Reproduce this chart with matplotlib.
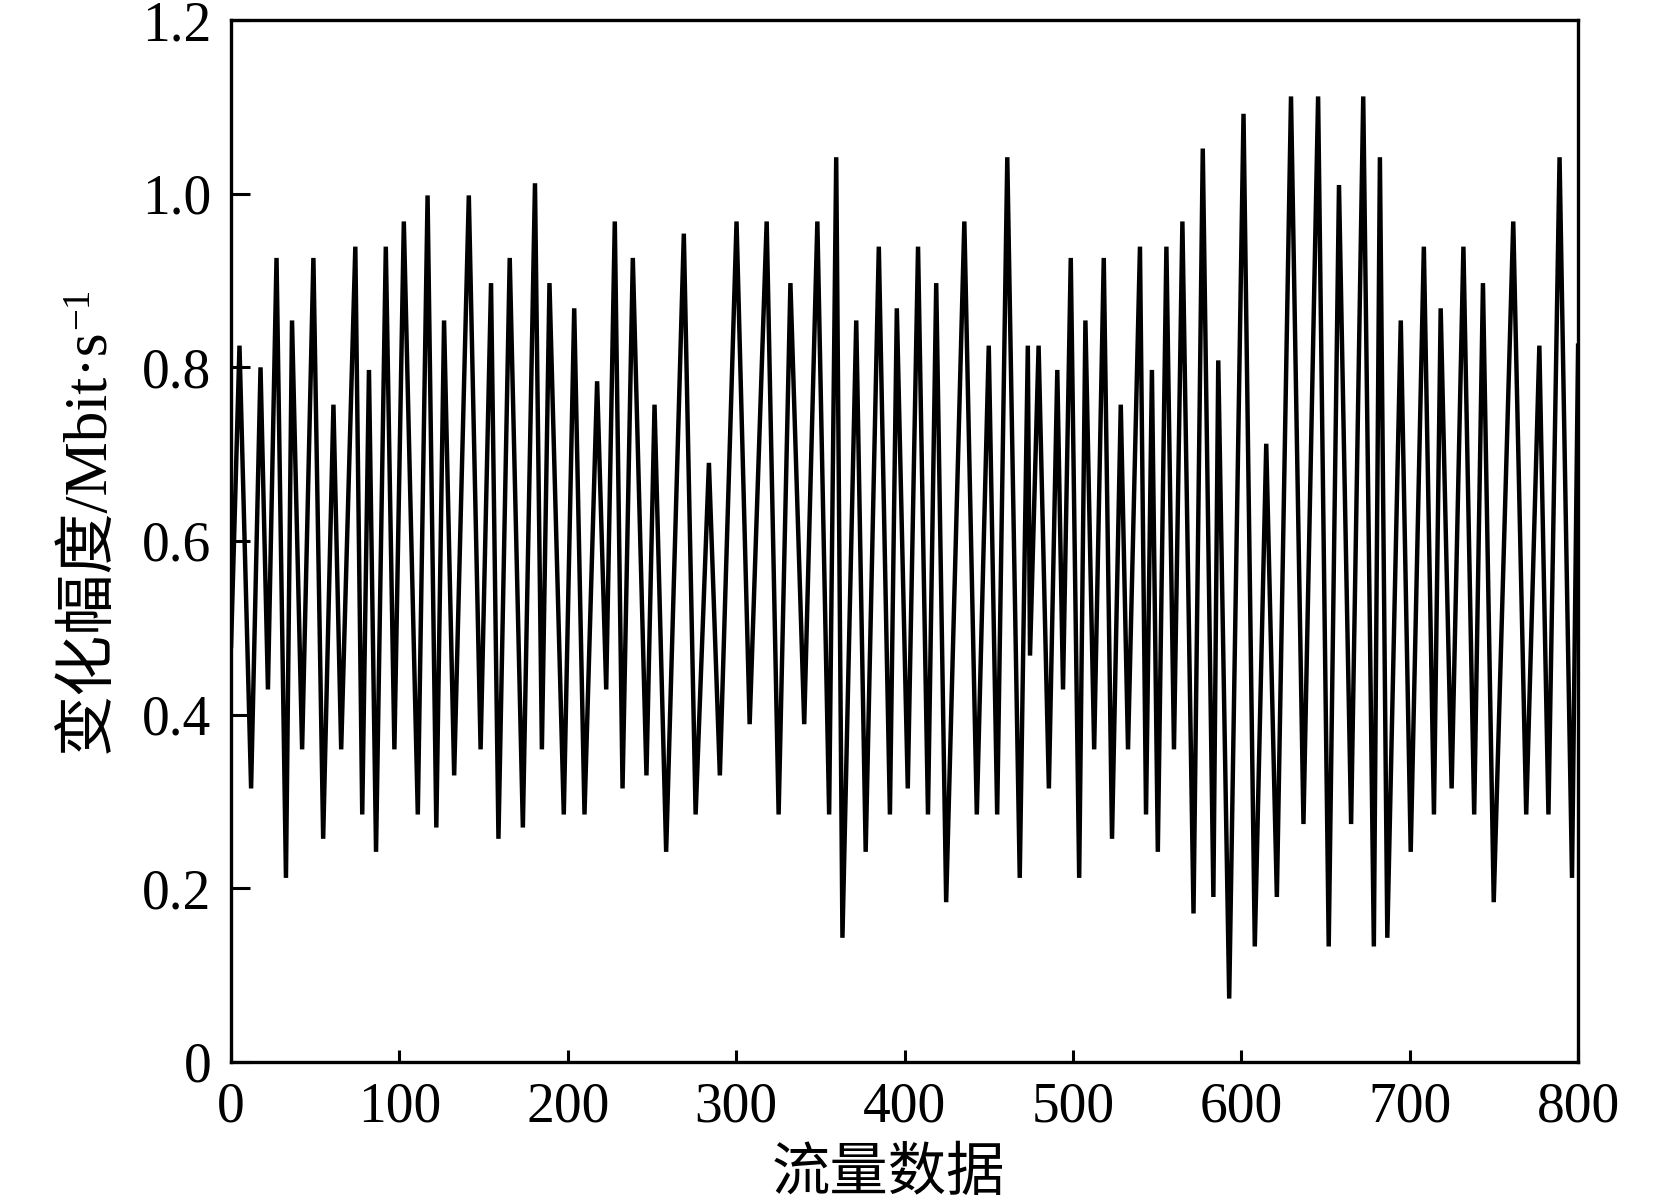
import numpy as np
import matplotlib.pyplot as plt

#%% Data
flow_idx = [0, 5.0, 11.9, 17.5, 21.9, 27.0, 32.6, 36.2, 42.2, 48.9,
            54.7, 60.8, 65.4, 73.8, 77.9, 81.9, 86.1, 91.9, 97.0, 102.6,
            110.9, 116.7, 121.9, 126.5, 132.5, 141.2, 148.2, 154.4, 158.8, 165.5,
            173.3, 180.5, 184.6, 189.1, 197.6, 203.8, 209.9, 217.4, 222.8, 227.9,
            232.5, 238.6, 246.7, 251.5, 258.4, 268.9, 275.9, 283.8, 290.3, 300.2,
            308.0, 318.1, 325.2, 332.2, 340.4, 348.2, 355.2, 359.4, 363.1, 371.3,
            376.9, 384.7, 391.3, 395.4, 401.9, 408.0, 413.9, 418.8, 424.7, 435.5,
            442.9, 450.0, 455.0, 461.0, 468.4, 473.2, 474.5, 479.6, 485.7, 490.7,
            494.1, 498.7, 503.7, 507.4, 512.6, 518.3, 523.2, 528.4, 532.7, 539.8,
            543.4, 546.9, 550.4, 555.5, 560.0, 565.0, 571.6, 577.1, 583.4, 586.3,
            592.8, 601.3, 608.0, 614.8, 621.1, 629.5, 636.9, 645.6, 651.9, 658.0,
            665.2, 672.4, 678.7, 682.3, 686.7, 694.7, 700.6, 708.4, 714.4, 718.4,
            724.9, 731.9, 738.3, 743.5, 749.9, 761.5, 769.2, 777.0, 782.4, 789.0,
            796.4, 800.0]
amplitude = [0.479, 0.825, 0.315, 0.800, 0.429, 0.926, 0.212, 0.854, 0.360, 0.926,
             0.257, 0.757, 0.360, 0.939, 0.285, 0.797, 0.242, 0.939, 0.360, 0.968,
             0.285, 0.998, 0.270, 0.854, 0.330, 0.998, 0.360, 0.897, 0.257, 0.926,
             0.270, 1.012, 0.360, 0.897, 0.285, 0.868, 0.285, 0.784, 0.429, 0.968,
             0.315, 0.926, 0.330, 0.757, 0.242, 0.954, 0.285, 0.690, 0.330, 0.968,
             0.389, 0.968, 0.285, 0.897, 0.389, 0.968, 0.285, 1.042, 0.143, 0.854,
             0.242, 0.939, 0.285, 0.868, 0.315, 0.939, 0.285, 0.897, 0.184, 0.968,
             0.285, 0.825, 0.285, 1.042, 0.212, 0.825, 0.468, 0.825, 0.315, 0.797,
             0.429, 0.926, 0.212, 0.854, 0.360, 0.926, 0.257, 0.757, 0.360, 0.939,
             0.285, 0.797, 0.242, 0.939, 0.360, 0.968, 0.171, 1.052, 0.190, 0.808,
             0.073, 1.092, 0.133, 0.712, 0.190, 1.112, 0.274, 1.112, 0.133, 1.010,
             0.274, 1.112, 0.133, 1.042, 0.143, 0.854, 0.242, 0.939, 0.285, 0.868,
             0.315, 0.939, 0.285, 0.897, 0.184, 0.968, 0.285, 0.825, 0.285, 1.042,
             0.212, 0.825]

x_ticks = [0, 100, 200, 300, 400, 500, 600, 700, 800]
y_ticks = [0, 0.2, 0.4, 0.6, 0.8, 1.0, 1.2]
y_tick_labels = ["0", "0.2", "0.4", "0.6", "0.8", "1.0", "1.2"]

#%% Style
plt.rcParams['font.family'] = ['Liberation Serif', 'Noto Sans CJK SC']

#%% Plot
fig = plt.figure(figsize=(16.54, 11.99), dpi=100)
ax = fig.add_axes([0.1397, 0.1143, 0.8144, 0.8690])

ax.plot(flow_idx, amplitude, color="black", linewidth=3.2, solid_joinstyle="miter")

ax.set_xlim(0, 800)
ax.set_ylim(0, 1.2)
ax.set_xticks(x_ticks)
ax.set_yticks(y_ticks)
ax.set_yticklabels(y_tick_labels)

ax.tick_params(axis="x", direction="in", length=8.5, width=2.2, labelsize=40, pad=14)
ax.tick_params(axis="y", direction="in", length=14, width=2.2, labelsize=40, pad=14)
for s in ax.spines.values():
    s.set_linewidth(2.4)

ax.set_xlabel("流量数据", fontsize=42)
ax.xaxis.set_label_coords(0.488, -0.082)
ylab = ax.set_ylabel("变化幅度/Mbit·s", fontsize=44, labelpad=18)
# superscript -1 tacked onto the end of the rotated y label
ax.annotate("\u22121", xy=(0, 1), xycoords=ylab, rotation=90,
            ha="left", va="bottom", fontsize=28)

fig.savefig("out.png", dpi=100)
